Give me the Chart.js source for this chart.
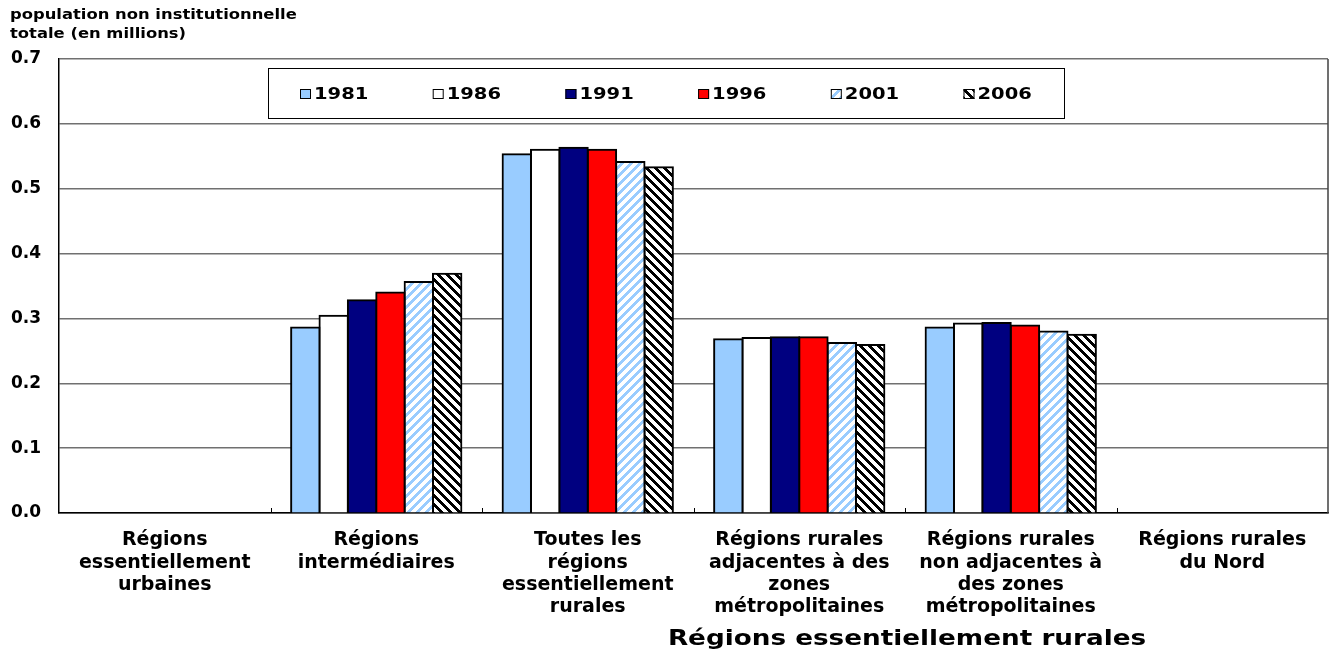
<!DOCTYPE html>
<html>
<head>
<meta charset="utf-8">
<script src="https://cdn.jsdelivr.net/npm/chart.js@4"></script>
<style>
  html, body { margin: 0; padding: 0; background: #fff; }
  #wrap { width: 1331px; height: 656px; }
</style>
</head>
<body>
<div id="wrap"><canvas id="popChart" width="1331" height="656"></canvas></div>
<script>
// categories (multi-line tick labels)
const categories = [
    ['Régions', 'essentiellement', 'urbaines'],
    ['Régions', 'intermédiaires'],
    ['Toutes les', 'régions', 'essentiellement', 'rurales'],
    ['Régions rurales', 'adjacentes à des', 'zones', 'métropolitaines'],
    ['Régions rurales', 'non adjacentes à', 'des zones', 'métropolitaines'],
    ['Régions rurales', 'du Nord']
];
const years = ['1981', '1986', '1991', '1996', '2001', '2006'];

// population non institutionnelle totale (millions)
const pop1981 = [null, 0.286, 0.553, 0.268, 0.286, null];
const pop1986 = [null, 0.304, 0.560, 0.270, 0.292, null];
const pop1991 = [null, 0.328, 0.563, 0.271, 0.293, null];
const pop1996 = [null, 0.340, 0.560, 0.271, 0.289, null];
const pop2001 = [null, 0.356, 0.541, 0.262, 0.280, null];
const pop2006 = [null, 0.369, 0.533, 0.259, 0.275, null];

const yTicks = [0, 0.1, 0.2, 0.3, 0.4, 0.5, 0.6, 0.7];
const yTitle = ['population non institutionnelle', 'totale (en millions)'];
const groupTitle = 'Régions essentiellement rurales';

const FONT = '"DejaVu Sans", "Liberation Sans", Arial, sans-serif';

const canvas = document.getElementById('popChart');
const ctx = canvas.getContext('2d');

// diagonal stripe tile, size p
function stripes(bg, fg, dir, on, p) {
    const c = document.createElement('canvas');
    c.width = p; c.height = p;
    const g = c.getContext('2d');
    g.fillStyle = bg;
    g.fillRect(0, 0, p, p);
    g.fillStyle = fg;
    for (let y = 0; y < p; y++) {
        for (let x = 0; x < p; x++) {
            const k = dir > 0 ? (x + y) % p : (x - y + p) % p;
            if (k < on) g.fillRect(x, y, 1, 1);
        }
    }
    return ctx.createPattern(c, 'repeat');
}

const fills = [
    '#99ccff',
    '#ffffff',
    '#000080',
    '#ff0000',
    stripes('#ffffff', '#99ccff', 1, 4, 9),
    stripes('#ffffff', '#000000', -1, 4, 9)
];
const series = [pop1981, pop1986, pop1991, pop1996, pop2001, pop2006];

function wideText(c, text, x, y, sx, align) {
    c.save();
    c.translate(x, y);
    c.scale(sx, 1);
    c.textAlign = align;
    c.fillText(text, 0, 0);
    c.restore();
}

const decor = {
    id: 'decor',
    afterDraw(chart) {
        const c = chart.ctx;
        const a = chart.chartArea;
        c.save();

        // right frame line
        c.strokeStyle = '#404040';
        c.lineWidth = 1.5;
        c.beginPath();
        c.moveTo(a.right, a.top);
        c.lineTo(a.right, a.bottom);
        c.stroke();

        // small inward ticks between categories
        const n = chart.data.labels.length;
        const w = (a.right - a.left) / n;
        c.strokeStyle = '#000';
        c.lineWidth = 1;
        for (let i = 1; i < n; i++) {
            const x = Math.round(a.left + i * w) + 0.5;
            c.beginPath();
            c.moveTo(x, a.bottom);
            c.lineTo(x, a.bottom - 5);
            c.stroke();
        }

        c.fillStyle = '#000';
        c.textBaseline = 'middle';

        // axis title, top left
        c.font = 'bold 14px ' + FONT;
        wideText(c, yTitle[0], 10, 15, 1.17, 'left');
        wideText(c, yTitle[1], 10, 34, 1.17, 'left');

        // group title under the rural categories
        c.font = 'bold 21px ' + FONT;
        wideText(c, groupTitle, 907, 640, 1.25, 'center');

        // legend box
        const lx = 268, ly = 68, lw = 796, lh = 50;
        c.fillStyle = '#fff';
        c.fillRect(lx, ly, lw, lh);
        c.strokeStyle = '#000';
        c.lineWidth = 1;
        c.strokeRect(lx + 0.5, ly + 0.5, lw, lh);
        c.font = 'bold 16px ' + FONT;
        chart.data.datasets.forEach((ds, i) => {
            const sx = lx + 32 + i * 132.7;
            c.fillStyle = ds.backgroundColor;
            c.fillRect(sx, 89, 11, 10);
            c.strokeStyle = '#000';
            c.strokeRect(sx + 0.5, 89.5, 10, 9);
            c.fillStyle = '#000';
            wideText(c, ds.label, sx + 14, 95, 1.22, 'left');
        });

        c.restore();
    }
};

new Chart(canvas, {
    type: 'bar',
    data: {
        labels: categories,
        datasets: years.map((y, i) => ({
            label: y,
            data: series[i],
            backgroundColor: fills[i],
            borderColor: '#000',
            borderWidth: 2,
            inflateAmount: 1,
            categoryPercentage: 0.805,
            barPercentage: 1.0
        }))
    },
    options: {
        responsive: false,
        animation: false,
        layout: { padding: { top: 59, right: 3, left: 0, bottom: 0 } },
        plugins: {
            legend: { display: false },
            tooltip: { enabled: false }
        },
        scales: {
            x: {
                grid: { display: false },
                border: { color: '#000', width: 1.5 },
                ticks: {
                    color: '#000',
                    autoSkip: false,
                    maxRotation: 0,
                    padding: 8,
                    font: { family: FONT, weight: 'bold', size: 19, lineHeight: 1.18 }
                },
                afterFit(s) { s.height = 143; }
            },
            y: {
                min: 0,
                max: 0.7,
                afterBuildTicks(s) { s.ticks = yTicks.map(v => ({ value: v })); },
                grid: { color: '#707070', lineWidth: 1.5, drawTicks: false },
                border: { color: '#000', width: 1.5 },
                ticks: {
                    color: '#000',
                    padding: 18,
                    font: { family: FONT, weight: 'bold', size: 17 },
                    callback: v => v.toFixed(1)
                },
                afterFit(s) { s.width = 59; }
            }
        }
    },
    plugins: [decor]
});
</script>
</body>
</html>
